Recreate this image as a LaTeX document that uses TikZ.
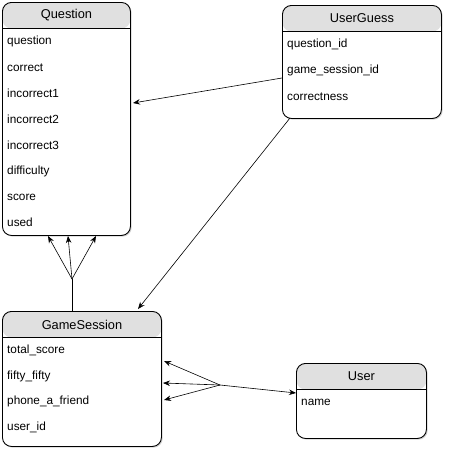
\documentclass[tikz,border=0pt]{standalone}
\usepackage{fontspec}
\setmainfont{Liberation Sans}
\usetikzlibrary{arrows.meta,shadows}
\tikzset{
  tbl/.style={draw=black, line width=0.9pt, rounded corners=9pt, fill=white, anchor=north west,
    drop shadow={shadow xshift=1.2pt, shadow yshift=-1.2pt, opacity=0.35, fill=gray},
    inner sep=0pt},
  hdrfill/.style={fill=black!12},
  ttl/.style={font=\fontsize{12.8}{14}\selectfont, inner sep=0pt, anchor=center},
  fld/.style={font=\fontsize{11.8}{13}\selectfont, inner sep=0pt, anchor=west},
  arr/.style={draw=black, line width=0.6pt, -{Stealth[length=7pt,width=5.5pt]}},
  ln/.style={draw=black, line width=0.6pt},
}
\newcommand{\tablebox}[6]{% name, x, y, w, h, title
  \node[tbl, minimum width=#4pt, minimum height=#5pt,
    path picture={\fill[hdrfill] (path picture bounding box.north west) rectangle ([yshift=-26pt]path picture bounding box.north east);}]
    (#1) at (#2,#3) {};
  \draw[line width=0.9pt] ([yshift=-26pt]#1.north west) -- ([yshift=-26pt]#1.north east);
  \node[ttl] (#1title) at ([yshift=-13.5pt]#1.north) {#6};
}
\begin{document}
\begin{tikzpicture}[x=1pt,y=-1pt]
\useasboundingbox (0,0) rectangle (454,459);
\fill[white] (0,0) rectangle (454,459);

% Question
\tablebox{Q}{2}{2}{128}{233}{Question}
\node[fld] (q1) at (7,41.5) {question};
\node[fld] (q2) at (7,67.5) {correct};
\node[fld] (q3) at (7,93.5) {incorrect1};
\node[fld] (q4) at (7,119.5) {incorrect2};
\node[fld] (q5) at (7,145.5) {incorrect3};
\node[fld] (q6) at (7,171.5) {difficulty};
\node[fld] (q7) at (7,197.5) {score};
\node[fld] (q8) at (7,222.5) {used};

% UserGuess
\tablebox{UG}{282}{5}{159}{113}{UserGuess}
\node[fld] (ug1) at (287,44.5) {question\_id};
\node[fld] (ug2) at (287,70.5) {game\_session\_id};
\node[fld] (ug3) at (287,96.5) {correctness};

% GameSession
\tablebox{GS}{2}{311}{159}{135}{GameSession}
\node[fld] (gs1) at (7,350.5) {total\_score};
\node[fld] (gs2) at (7,376.5) {fifty\_fifty};
\node[fld] (gs3) at (7,401.5) {phone\_a\_friend};
\node[fld] (gs4) at (7,427.5) {user\_id};

% User
\tablebox{U}{296}{363}{130}{75}{User}
\node[fld] (u1) at (301,402.5) {name};

% connectors
\draw[arr] (UG.west |- 0,78) -- (133,103);
\draw[arr] (290,118) -- (138,309);

\coordinate (f1) at (72,279);
\draw[ln] (GS.north -| f1) -- (f1);
\draw[arr] (f1) -- (48,236);
\draw[arr] (f1) -- (68,236);
\draw[arr] (f1) -- (96,236);

\coordinate (f2) at (220,385);
\draw[arr] (f2) -- (U.west |- 0,393);
\draw[arr] (f2) -- (164,361);
\draw[arr] (f2) -- (163,383);
\draw[arr] (f2) -- (164,400);
\end{tikzpicture}
\end{document}
